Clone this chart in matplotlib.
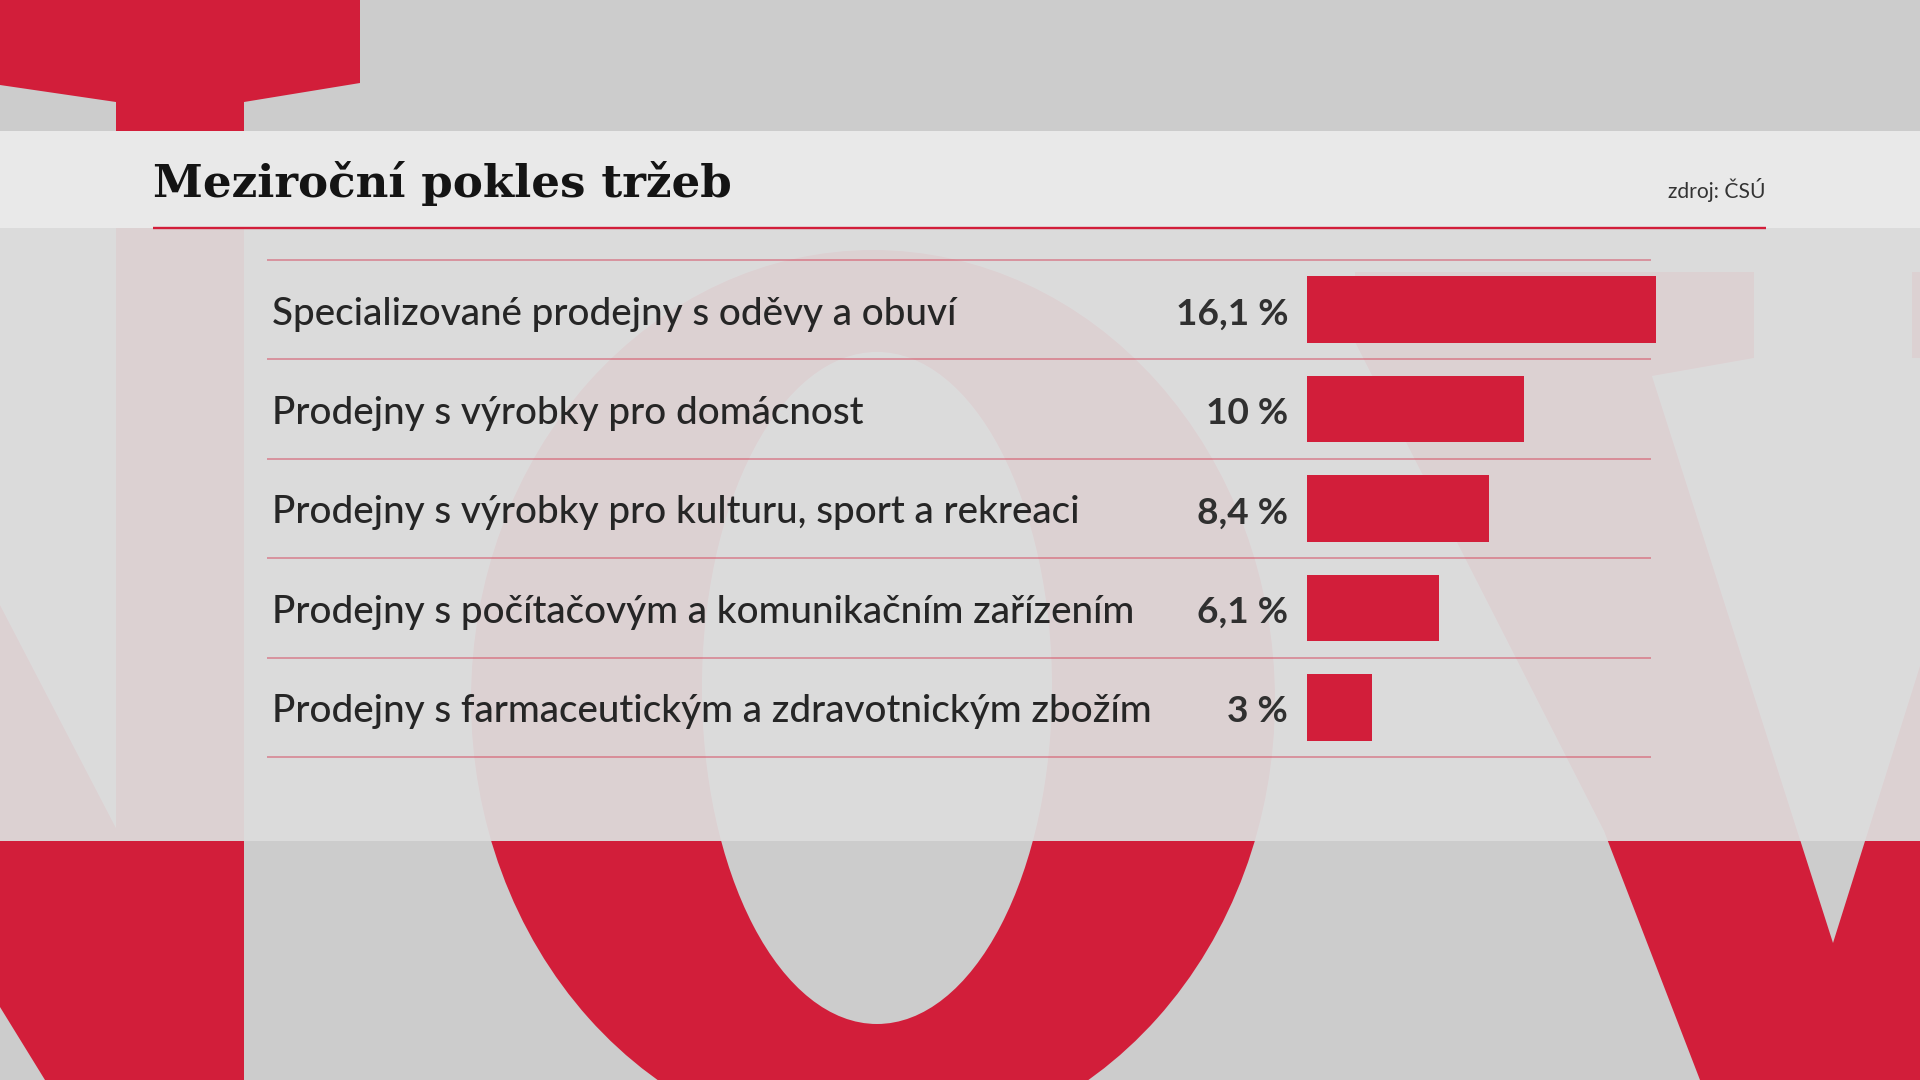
import matplotlib
matplotlib.use("Agg")
import matplotlib.pyplot as plt
from matplotlib.patches import Polygon, Ellipse, Rectangle
from matplotlib.transforms import blended_transform_factory

# ---------------- data ----------------
title = "Meziroční pokles tržeb"
source = "zdroj: ČSÚ"
categories = [
    "Specializované prodejny s oděvy a obuví",
    "Prodejny s výrobky pro domácnost",
    "Prodejny s výrobky pro kulturu, sport a rekreaci",
    "Prodejny s počítačovým a komunikačním zařízením",
    "Prodejny s farmaceutickým a zdravotnickým zbožím",
]
values = [16.1, 10, 8.4, 6.1, 3]
value_labels = ["16,1 %", "10 %", "8,4 %", "6,1 %", "3 %"]

# ---------------- style ----------------
RED = "#d21e3a"
BG = "#cccccc"
W, H = 1920, 1080
LABEL_FONT = ["Lato", "DejaVu Sans"]

fig = plt.figure(figsize=(19.2, 10.8), dpi=100)
fig.patch.set_facecolor(BG)

# background / decoration axes in pixel coordinates
bg = fig.add_axes([0, 0, 1, 1])
bg.set_xlim(0, W)
bg.set_ylim(H, 0)
bg.axis("off")
bg.add_patch(Rectangle((0, 0), W, H, color=BG, zorder=0))

# big decorative letters
bg.add_patch(Polygon([(0, 0), (360, 0), (360, 83), (244, 102), (244, 140),
                      (116, 140), (116, 102), (0, 85)], closed=True,
                     color=RED, lw=0, zorder=1))
bg.add_patch(Rectangle((116, 100), 128, 980, color=RED, lw=0, zorder=1))
bg.add_patch(Polygon([(0, 605), (117, 830), (117, 1080), (45, 1080), (0, 1007)],
                     closed=True, color=RED, lw=0, zorder=1))
bg.add_patch(Ellipse((873, 700), 804, 900, color=RED, lw=0, zorder=1))
bg.add_patch(Ellipse((877, 688), 350, 672, color=BG, lw=0, zorder=1.1))
bg.add_patch(Polygon([(1355, 272), (1754, 272), (1754, 358), (1652, 376),
                      (1833, 943), (1925, 650), (1925, 1080), (1700, 1080),
                      (1604, 831), (1355, 342)], closed=True,
                     color=RED, lw=0, zorder=1))
bg.add_patch(Rectangle((1912, 272), 20, 86, color=RED, lw=0, zorder=1))

# translucent panel and header band
bg.add_patch(Rectangle((0, 228), W, 613, color="#dddddd", alpha=0.94, lw=0, zorder=2))
bg.add_patch(Rectangle((0, 131), W, 97, color="#e9e9e9", lw=0, zorder=3))
bg.plot([153, 1766], [228, 228], color=RED, lw=1.7, zorder=4, solid_capstyle="butt")

t_title = bg.text(153, 197, title, family="DejaVu Serif", weight="bold",
                  fontsize=32, color="#141414", ha="left", va="baseline", zorder=5)
t_src = bg.text(1766, 198, source, family=LABEL_FONT, fontsize=14,
                color="#333333", ha="right", va="baseline", zorder=5)

# ---------------- bar chart ----------------
row_top, row_bot = 260, 757
ax = fig.add_axes([1307 / W, 1 - row_bot / H, 349 / W, (row_bot - row_top) / H])
ax.patch.set_alpha(0)
for s in ax.spines.values():
    s.set_visible(False)
ax.set_xticks([])
ax.set_yticks([])

ypos = list(range(len(categories)))
ax.barh(ypos, values, height=0.67, color=RED, zorder=3)
ax.set_xlim(0, max(values))
ax.set_ylim(len(categories) - 0.5, -0.5)

tr = blended_transform_factory(fig.transFigure, ax.transData)
seps = [i - 0.5 for i in range(len(categories) + 1)]
ax.hlines(seps, 267 / W, 1651 / W, transform=tr, color=RED, alpha=0.38,
          lw=1.4, clip_on=False, zorder=2)

label_texts = []
value_texts = []
for i, (cat, lab) in enumerate(zip(categories, value_labels)):
    label_texts.append(ax.text(272 / W, i + 0.15, cat, transform=tr, ha="left",
                               va="baseline", fontsize=22, family=LABEL_FONT,
                               weight="medium", color="#262626", clip_on=False))
    value_texts.append(ax.text(1288 / W, i + 0.15, lab, transform=tr, ha="right",
                               va="baseline", fontsize=22, family=LABEL_FONT,
                               weight="bold", color="#303030", clip_on=False))

# fit text sizes to the reference widths
renderer = fig.canvas.get_renderer()


def fit(texts, ref_text, target_px):
    w = ref_text.get_window_extent(renderer).width
    size = ref_text.get_fontsize() * target_px / w
    for t in texts:
        t.set_fontsize(size)


fit(label_texts, label_texts[4], 879)
fit(value_texts, value_texts[0], 112)
fit([t_title], t_title, 579)
fit([t_src], t_src, 98)

fig.savefig("out.png", dpi=100, facecolor=BG)
